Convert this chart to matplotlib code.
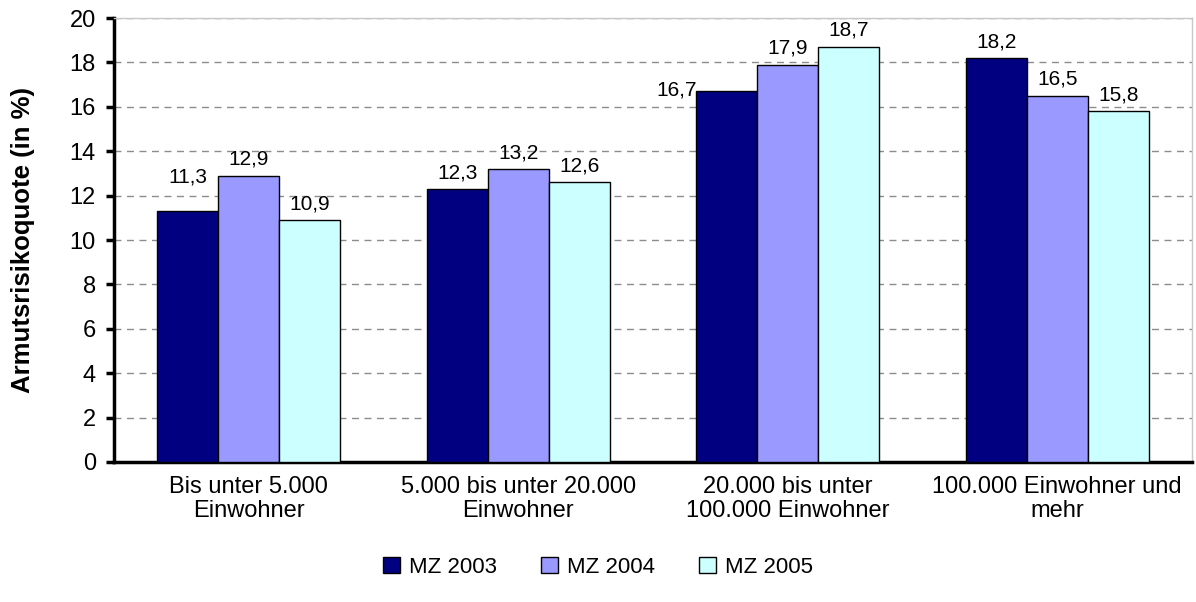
import matplotlib
matplotlib.use("Agg")
import matplotlib.pyplot as plt
import numpy as np

plt.rcParams['font.family'] = ['Liberation Sans', 'DejaVu Sans']

categories = ["Bis unter 5.000\nEinwohner",
              "5.000 bis unter 20.000\nEinwohner",
              "20.000 bis unter\n100.000 Einwohner",
              "100.000 Einwohner und\nmehr"]
series_names = ["MZ 2003", "MZ 2004", "MZ 2005"]
mz2003 = [11.3, 12.3, 16.7, 18.2]
mz2004 = [12.9, 13.2, 17.9, 16.5]
mz2005 = [10.9, 12.6, 18.7, 15.8]
colors = ["#000080", "#9999FF", "#CCFFFF"]
yticks = [0, 2, 4, 6, 8, 10, 12, 14, 16, 18, 20]

# label offsets in points (dx, dy) per series and category
default_off = (0, 5)
label_offsets = {
    (0, 0): (0, 18),    # 11,3 lifted clear of the neighbouring label
    (0, 2): (-36, -6),  # 16,7 placed beside its bar
}

fig = plt.figure(figsize=(11.96, 6.02), dpi=100)
ax = fig.add_axes([0.0953, 0.2326, 0.9013, 0.7374])

x = np.arange(len(categories))
width = 0.2265
series = [mz2003, mz2004, mz2005]
handles = []
for i, (vals, name, col) in enumerate(zip(series, series_names, colors)):
    pos = x + (i - 1) * width
    bars = ax.bar(pos, vals, width, color=col, edgecolor="black", linewidth=1.0,
                  label=name, zorder=3)
    handles.append(bars)
    for j, (p, v) in enumerate(zip(pos, vals)):
        dx, dy = label_offsets.get((i, j), default_off)
        ax.annotate(f"{v:.1f}".replace(".", ","), (p, v), xytext=(dx, dy),
                    textcoords="offset points", ha="center", va="bottom",
                    fontsize=15)

ax.set_xlim(-0.5, len(categories) - 0.5)
ax.set_ylim(0, 20)
ax.set_yticks(yticks)
ax.set_yticklabels([str(t) for t in yticks], fontsize=17)
ax.set_xticks(x)
ax.set_xticklabels(categories, fontsize=17, linespacing=1.15)
ax.tick_params(axis="x", length=0, pad=10)
ax.tick_params(axis="y", length=6, width=2.5, direction="out", pad=7)

ax.yaxis.grid(True, linestyle=(0, (5, 4)), color="#8c8c8c", linewidth=1.0, zorder=0)
ax.set_axisbelow(True)

for side in ("top", "right"):
    ax.spines[side].set_color("#c8c8c8")
    ax.spines[side].set_linewidth(1.0)
ax.spines["left"].set_linewidth(2.5)
ax.spines["bottom"].set_linewidth(2.5)

ax.set_ylabel("Armutsrisikoquote (in %)", fontsize=18.5, fontweight="bold")
ax.yaxis.set_label_coords(-0.073, 0.5)

fig.legend(handles=handles, labels=series_names, loc="center", ncol=3,
           bbox_to_anchor=(0.5, 0.058), frameon=False, fontsize=16,
           handlelength=0.75, handleheight=0.75, handletextpad=0.4, columnspacing=2.0)

fig.savefig("out.png", dpi=100)
